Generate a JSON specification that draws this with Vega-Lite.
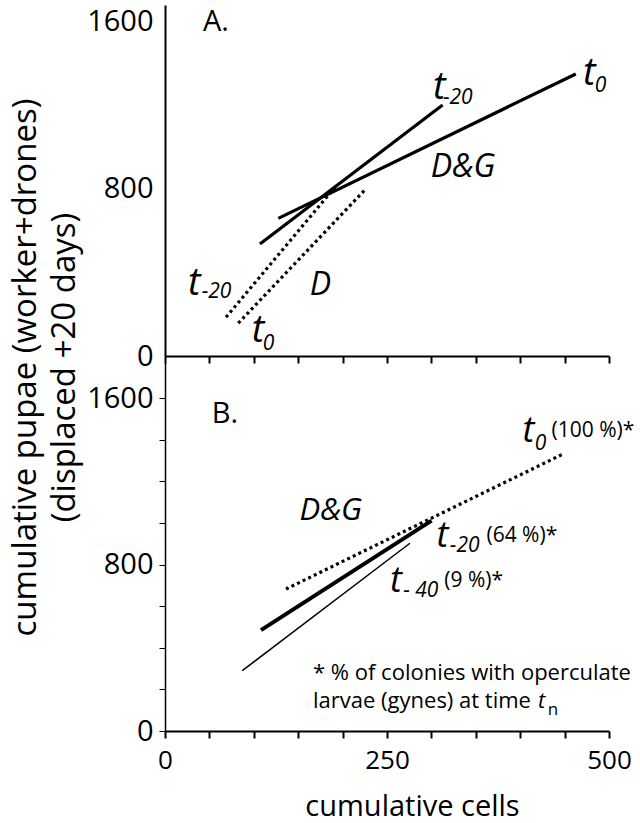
{
  "$schema": "https://vega.github.io/schema/vega-lite/v6.json",
  "autosize": {"type": "none"},
  "padding": {"left": 165, "top": 5, "right": 475, "bottom": 818},
  "background": "white",
  "bounds": "flush",
  "spacing": 6,
  "config": {
    "view": {"stroke": null},
    "font": "Open Sans",
    "axis": {"grid": false, "domainColor": "black", "tickColor": "black", "labelColor": "black", "titleColor": "black"}
  },
  "datasets": {
    "lines": [
      {"panel": "A", "kind": "D&G", "time": "t0", "x": 127.6, "y": 659},
      {"panel": "A", "kind": "D&G", "time": "t0", "x": 462.6, "y": 1350},
      {"panel": "A", "kind": "D&G", "time": "t-20", "x": 106.9, "y": 536},
      {"panel": "A", "kind": "D&G", "time": "t-20", "x": 312.6, "y": 1201},
      {"panel": "A", "kind": "D", "time": "t-20", "x": 68.7, "y": 185},
      {"panel": "A", "kind": "D", "time": "t-20", "x": 193.3, "y": 818},
      {"panel": "A", "kind": "D", "time": "t0", "x": 82.5, "y": 157},
      {"panel": "A", "kind": "D", "time": "t0", "x": 225.1, "y": 795},
      {"panel": "B", "kind": "D&G", "time": "t0", "x": 136.2, "y": 682},
      {"panel": "B", "kind": "D&G", "time": "t0", "x": 448.3, "y": 1331},
      {"panel": "B", "kind": "D&G", "time": "t-20", "x": 108.1, "y": 485},
      {"panel": "B", "kind": "D&G", "time": "t-20", "x": 300.2, "y": 1011},
      {"panel": "B", "kind": "D&G", "time": "t-40", "x": 87.0, "y": 290},
      {"panel": "B", "kind": "D&G", "time": "t-40", "x": 275.8, "y": 902}
    ],
    "labels": [
      {"panel": "A", "role": "panel", "text": "A.", "x": 42.8, "y": 1555},
      {"panel": "A", "role": "t", "text": "t", "x": 301.8, "y": 1232},
      {"panel": "A", "role": "sub", "text": "-20", "x": 313, "y": 1206},
      {"panel": "A", "role": "t", "text": "t", "x": 470.7, "y": 1297},
      {"panel": "A", "role": "sub", "text": "0", "x": 484, "y": 1265},
      {"panel": "A", "role": "group", "text": "D&G", "x": 335.6, "y": 858},
      {"panel": "A", "role": "group", "text": "D", "x": 175, "y": 292},
      {"panel": "A", "role": "t", "text": "t", "x": 26, "y": 292},
      {"panel": "A", "role": "sub", "text": "-20", "x": 41.3, "y": 276},
      {"panel": "A", "role": "t", "text": "t", "x": 97.6, "y": 68},
      {"panel": "A", "role": "sub", "text": "0", "x": 110, "y": 29},
      {"panel": "B", "role": "panel", "text": "B.", "x": 52.6, "y": 1478},
      {"panel": "B", "role": "group", "text": "D&G", "x": 186.7, "y": 1014},
      {"panel": "B", "role": "t", "text": "t", "x": 402.6, "y": 1390},
      {"panel": "B", "role": "sub", "text": "0", "x": 416.5, "y": 1350},
      {"panel": "B", "role": "note", "text": "(100 %)*", "x": 435.3, "y": 1414},
      {"panel": "B", "role": "t", "text": "t", "x": 305.8, "y": 886},
      {"panel": "B", "role": "sub", "text": "-20", "x": 320.8, "y": 862},
      {"panel": "B", "role": "note", "text": "(64 %)*", "x": 362, "y": 910},
      {"panel": "B", "role": "t", "text": "t", "x": 253.3, "y": 669},
      {"panel": "B", "role": "sub", "text": "- 40", "x": 268.3, "y": 645},
      {"panel": "B", "role": "note", "text": "(9 %)*", "x": 314.5, "y": 693},
      {"panel": "B", "role": "foot", "text": "* % of colonies with operculate", "x": 166.7, "y": 245},
      {"panel": "B", "role": "foot", "text": "larvae (gynes) at time", "x": 166.7, "y": 109},
      {"panel": "B", "role": "foott", "text": "t", "x": 420, "y": 109},
      {"panel": "B", "role": "footsub", "text": "n", "x": 431, "y": 79}
    ]
  },
  "vconcat": [
    {
      "width": 444,
      "height": 351,
      "encoding": {
        "x": {"field": "x", "type": "quantitative", "scale": {"domain": [0, 500], "nice": false, "zero": false},
          "axis": {"values": [0, 50, 100, 150, 200, 250, 300, 350, 400, 450, 500], "labels": false, "tickSize": 7, "tickWidth": 2, "domainWidth": 2, "title": null}},
        "y": {"field": "y", "type": "quantitative", "scale": {"domain": [0, 1680], "nice": false, "zero": false},
          "axis": {"values": [0, 800, 1600], "format": "d", "ticks": false, "tickSize": 0, "labelFont": "Open Sans", "labelFontSize": 29, "labelPadding": 12, "labelBaseline": "middle",
            "domainWidth": 2,
            "title": ["cumulative pupae (worker+drones)", "(displaced +20 days)"],
            "titleFont": "Open Sans", "titleFontSize": 33, "titleFontWeight": "normal",
            "titleX": -130, "titleY": 362, "titleAngle": -90, "titleBaseline": "alphabetic", "titleAlign": "center", "titleLineHeight": 39}}
      },
      "layer": [
        {"data": {"name": "lines"}, "transform": [{"filter": "datum.panel === 'A' && datum.kind === 'D&G'"}],
          "mark": {"type": "line", "color": "black", "strokeWidth": 3.2, "strokeCap": "butt"},
          "encoding": {"detail": {"field": "time"}}},
        {"data": {"name": "lines"}, "transform": [{"filter": "datum.panel === 'A' && datum.kind === 'D'"}],
          "mark": {"type": "line", "color": "black", "strokeWidth": 3.2, "strokeDash": [3, 3.2], "strokeCap": "butt"},
          "encoding": {"detail": {"field": "time"}}},
        {"data": {"name": "labels"}, "transform": [{"filter": "datum.panel === 'A' && datum.role === 'panel'"}],
          "mark": {"type": "text", "align": "left", "baseline": "alphabetic", "fontSize": 29, "color": "black"},
          "encoding": {"text": {"field": "text"}}},
        {"data": {"name": "labels"}, "transform": [{"filter": "datum.panel === 'A' && datum.role === 't'"}],
          "mark": {"type": "text", "align": "left", "baseline": "alphabetic", "fontSize": 38, "fontStyle": "italic", "color": "black"},
          "encoding": {"text": {"field": "text"}}},
        {"data": {"name": "labels"}, "transform": [{"filter": "datum.panel === 'A' && datum.role === 'sub'"}],
          "mark": {"type": "text", "align": "left", "baseline": "alphabetic", "fontSize": 21, "fontStyle": "italic", "color": "black"},
          "encoding": {"text": {"field": "text"}}},
        {"data": {"name": "labels"}, "transform": [{"filter": "datum.panel === 'A' && datum.role === 'group'"}],
          "mark": {"type": "text", "align": "center", "baseline": "alphabetic", "fontSize": 32, "fontStyle": "italic", "color": "black"},
          "encoding": {"text": {"field": "text"}}}
      ]
    },
    {
      "width": 444,
      "height": 369,
      "encoding": {
        "x": {"field": "x", "type": "quantitative", "scale": {"domain": [0, 500], "nice": false, "zero": false},
          "axis": {"values": [0, 50, 100, 150, 200, 250, 300, 350, 400, 450, 500], "tickSize": 7, "tickWidth": 2, "domainWidth": 2,
            "labelExpr": "datum.value % 250 === 0 ? datum.label : ''", "labelFont": "Open Sans", "labelFontSize": 26,
            "labelBaseline": "alphabetic", "labelPadding": 30, "labelFlush": false, "labelOverlap": false,
            "title": "cumulative cells", "titleFont": "Open Sans", "titleFontSize": 29, "titleFontWeight": "normal",
            "titleX": 247, "titleY": 84, "titleBaseline": "alphabetic", "titleAlign": "center"}},
        "y": {"field": "y", "type": "quantitative", "scale": {"domain": [0, 1773], "nice": false, "zero": false},
          "axis": {"values": [0, 200, 400, 600, 800, 1000, 1200, 1400, 1600], "format": "d", "tickSize": 6, "tickWidth": 1,
            "labelExpr": "datum.value % 800 === 0 ? datum.label : ''", "labelOverlap": false,
            "labelFont": "Open Sans", "labelFontSize": 29, "labelPadding": 6, "labelBaseline": "middle",
            "domainWidth": 1.5, "title": null}}
      },
      "layer": [
        {"data": {"name": "lines"}, "transform": [{"filter": "datum.panel === 'B' && datum.time === 't0'"}],
          "mark": {"type": "line", "color": "black", "strokeWidth": 3.2, "strokeDash": [3, 3.2], "strokeCap": "butt"},
          "encoding": {}},
        {"data": {"name": "lines"}, "transform": [{"filter": "datum.panel === 'B' && datum.time === 't-20'"}],
          "mark": {"type": "line", "color": "black", "strokeWidth": 4, "strokeCap": "butt"},
          "encoding": {}},
        {"data": {"name": "lines"}, "transform": [{"filter": "datum.panel === 'B' && datum.time === 't-40'"}],
          "mark": {"type": "line", "color": "black", "strokeWidth": 1.5, "strokeCap": "butt"},
          "encoding": {}},
        {"data": {"name": "labels"}, "transform": [{"filter": "datum.panel === 'B' && datum.role === 'panel'"}],
          "mark": {"type": "text", "align": "left", "baseline": "alphabetic", "fontSize": 29, "color": "black"},
          "encoding": {"text": {"field": "text"}}},
        {"data": {"name": "labels"}, "transform": [{"filter": "datum.panel === 'B' && datum.role === 't'"}],
          "mark": {"type": "text", "align": "left", "baseline": "alphabetic", "fontSize": 36, "fontStyle": "italic", "color": "black"},
          "encoding": {"text": {"field": "text"}}},
        {"data": {"name": "labels"}, "transform": [{"filter": "datum.panel === 'B' && datum.role === 'sub'"}],
          "mark": {"type": "text", "align": "left", "baseline": "alphabetic", "fontSize": 21, "fontStyle": "italic", "color": "black"},
          "encoding": {"text": {"field": "text"}}},
        {"data": {"name": "labels"}, "transform": [{"filter": "datum.panel === 'B' && datum.role === 'note'"}],
          "mark": {"type": "text", "align": "left", "baseline": "alphabetic", "fontSize": 21, "color": "black"},
          "encoding": {"text": {"field": "text"}}},
        {"data": {"name": "labels"}, "transform": [{"filter": "datum.panel === 'B' && datum.role === 'group'"}],
          "mark": {"type": "text", "align": "center", "baseline": "alphabetic", "fontSize": 31, "fontStyle": "italic", "color": "black"},
          "encoding": {"text": {"field": "text"}}},
        {"data": {"name": "labels"}, "transform": [{"filter": "datum.panel === 'B' && datum.role === 'foot'"}],
          "mark": {"type": "text", "align": "left", "baseline": "alphabetic", "fontSize": 22, "color": "black"},
          "encoding": {"text": {"field": "text"}}},
        {"data": {"name": "labels"}, "transform": [{"filter": "datum.panel === 'B' && datum.role === 'foott'"}],
          "mark": {"type": "text", "align": "left", "baseline": "alphabetic", "fontSize": 22, "fontStyle": "italic", "color": "black"},
          "encoding": {"text": {"field": "text"}}},
        {"data": {"name": "labels"}, "transform": [{"filter": "datum.panel === 'B' && datum.role === 'footsub'"}],
          "mark": {"type": "text", "align": "left", "baseline": "alphabetic", "fontSize": 17, "color": "black"},
          "encoding": {"text": {"field": "text"}}}
      ]
    }
  ]
}
